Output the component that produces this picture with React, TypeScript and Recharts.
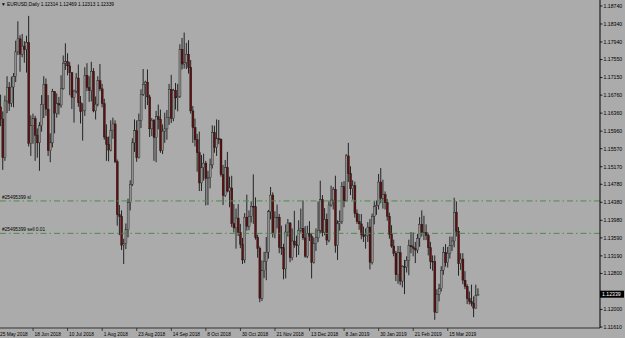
import { ComposedChart, Bar, XAxis, YAxis, ReferenceLine } from 'recharts';

// EURUSD daily, 25 May 2018 .. 4 Apr 2019 (weekdays, no 25 Dec / 1 Jan)
const OPEN = [
  1.1720, 1.1650, 1.1623, 1.1537, 1.1663, 1.1693,
  1.1658, 1.1694, 1.1718, 1.1772, 1.1801,
  1.1767, 1.1785, 1.1777, 1.1793, 1.1569,
  1.1608, 1.1624, 1.1587, 1.1570, 1.1608,
  1.1655, 1.1700, 1.1645, 1.1553, 1.1570,
  1.1684, 1.1636, 1.1657, 1.1654, 1.1690,
  1.1747, 1.1750, 1.1741, 1.1726, 1.1671,
  1.1685, 1.1714, 1.1659, 1.1640, 1.1642,
  1.1720, 1.1693, 1.1686, 1.1729, 1.1641,
  1.1656, 1.1708, 1.1690, 1.1657, 1.1583,
  1.1567, 1.1554, 1.1597, 1.1612, 1.1528,
  1.1411, 1.1407, 1.1343, 1.1346, 1.1377,
  1.1437, 1.1478, 1.1570, 1.1597, 1.1537,
  1.1620, 1.1678, 1.1700, 1.1705, 1.1672,
  1.1601, 1.1620, 1.1582, 1.1628, 1.1622,
  1.1553, 1.1596, 1.1601, 1.1627, 1.1689,
  1.1624, 1.1687, 1.1670, 1.1673, 1.1778,
  1.1745, 1.1748, 1.1767, 1.1738, 1.1641,
  1.1604, 1.1577, 1.1548, 1.1481, 1.1515,
  1.1525, 1.1491, 1.1493, 1.1521, 1.1593,
  1.1560, 1.1579, 1.1578, 1.1500, 1.1453,
  1.1515, 1.1463, 1.1470, 1.1391, 1.1381,
  1.1403, 1.1371, 1.1345, 1.1310, 1.1405,
  1.1385, 1.1407, 1.1429, 1.1428, 1.1360,
  1.1336, 1.1225, 1.1286, 1.1307, 1.1327,
  1.1417, 1.1454, 1.1368, 1.1405, 1.1405,
  1.1338, 1.1337, 1.1290, 1.1372, 1.1392,
  1.1315, 1.1352, 1.1344, 1.1342, 1.1376,
  1.1380, 1.1359, 1.1318, 1.1369, 1.1363,
  1.1305, 1.1346, 1.1359, 1.1376, 1.1444,
  1.1371, 1.1400, 1.1354, 1.1432,
  1.1443, 1.1467, 1.1342, 1.1391,
  1.1395, 1.1473, 1.1441, 1.1541, 1.1502,
  1.1468, 1.1475, 1.1413, 1.1395, 1.1390,
  1.1366, 1.1362, 1.1364, 1.1383, 1.1305,
  1.1407, 1.1428, 1.1431, 1.1483, 1.1447,
  1.1455, 1.1437, 1.1407, 1.1367, 1.1341,
  1.1325, 1.1277, 1.1326, 1.1263, 1.1296,
  1.1294, 1.1309, 1.1342, 1.1339, 1.1336,
  1.1332, 1.1358, 1.1389, 1.1371, 1.1371,
  1.1364, 1.1337, 1.1307, 1.1306, 1.1194,
  1.1234, 1.1246, 1.1287, 1.1327, 1.1304,
  1.1325, 1.1342, 1.1352, 1.1416, 1.1374,
  1.1302, 1.1312, 1.1265, 1.1251, 1.1224,
  1.1218, 1.1214, 1.1203, 1.12314,
];

const HIGH = [
  1.1736, 1.1677, 1.1640, 1.1675, 1.1718, 1.1705,
  1.1717, 1.1725, 1.1797, 1.1840, 1.1809,
  1.1812, 1.1796, 1.1808, 1.1852, 1.1631,
  1.1635, 1.1630, 1.1602, 1.1616, 1.1676,
  1.1718, 1.1713, 1.1676, 1.1591, 1.1690,
  1.1685, 1.1680, 1.1672, 1.1720, 1.1764,
  1.1791, 1.1769, 1.1750, 1.1727, 1.1688,
  1.1725, 1.1744, 1.1674, 1.1658, 1.1738,
  1.1747, 1.1718, 1.1750, 1.1736, 1.1673,
  1.1718, 1.1745, 1.1701, 1.1668, 1.1611,
  1.1584, 1.1620, 1.1626, 1.1620, 1.1533,
  1.1432, 1.1420, 1.1357, 1.1391, 1.1446,
  1.1487, 1.1580, 1.1622, 1.1620, 1.1635,
  1.1689, 1.1734, 1.1708, 1.1733, 1.1677,
  1.1625, 1.1623, 1.1641, 1.1655, 1.1644,
  1.1611, 1.1637, 1.1643, 1.1701, 1.1721,
  1.1690, 1.1703, 1.1701, 1.1789, 1.1803,
  1.1815, 1.1792, 1.1798, 1.1754, 1.1652,
  1.1624, 1.1590, 1.1595, 1.1543, 1.1546,
  1.1530, 1.1508, 1.1535, 1.1609, 1.1608,
  1.1622, 1.1621, 1.1580, 1.1521, 1.1532,
  1.1550, 1.1495, 1.1497, 1.1434, 1.1424,
  1.1434, 1.1390, 1.1359, 1.1414, 1.1455,
  1.1420, 1.1440, 1.1500, 1.1449, 1.1366,
  1.1340, 1.1309, 1.1328, 1.1361, 1.1421,
  1.1472, 1.1460, 1.1418, 1.1433, 1.1412,
  1.1386, 1.1346, 1.1389, 1.1401, 1.1394,
  1.1380, 1.1419, 1.1364, 1.1398, 1.1424,
  1.1442, 1.1385, 1.1386, 1.1396, 1.1370,
  1.1360, 1.1380, 1.1440, 1.1486, 1.1454,
  1.1425, 1.1413, 1.1440, 1.1475,
  1.1472, 1.1497, 1.1398, 1.1420,
  1.1483, 1.1485, 1.1545, 1.1570, 1.1518,
  1.1487, 1.1484, 1.1422, 1.1412, 1.1412,
  1.1384, 1.1380, 1.1394, 1.1401, 1.1413,
  1.1440, 1.1442, 1.1501, 1.1514, 1.1488,
  1.1462, 1.1445, 1.1415, 1.1387, 1.1355,
  1.1330, 1.1341, 1.1341, 1.1298, 1.1310,
  1.1318, 1.1355, 1.1372, 1.1371, 1.1350,
  1.1368, 1.1405, 1.1420, 1.1408, 1.1389,
  1.1370, 1.1350, 1.1320, 1.1320, 1.1245,
  1.1257, 1.1296, 1.1339, 1.1345, 1.1339,
  1.1362, 1.1362, 1.1448, 1.1440, 1.1383,
  1.1325, 1.1325, 1.1285, 1.1256, 1.1240,
  1.1255, 1.1229, 1.1255, 1.12469,
];

const LOW = [
  1.1646, 1.1607, 1.1510, 1.1530, 1.1636, 1.1641,
  1.1650, 1.1649, 1.1705, 1.1765, 1.1728,
  1.1760, 1.1748, 1.1726, 1.1562, 1.1541,
  1.1568, 1.1530, 1.1537, 1.1508, 1.1595,
  1.1625, 1.1630, 1.1541, 1.1527, 1.1560,
  1.1591, 1.1626, 1.1633, 1.1648, 1.1688,
  1.1732, 1.1720, 1.1676, 1.1645, 1.1615,
  1.1680, 1.1650, 1.1613, 1.1575, 1.1630,
  1.1685, 1.1661, 1.1662, 1.1638, 1.1622,
  1.1651, 1.1685, 1.1649, 1.1577, 1.1530,
  1.1529, 1.1551, 1.1579, 1.1525, 1.1386,
  1.1365, 1.1332, 1.1301, 1.1334, 1.1360,
  1.1420, 1.1474, 1.1550, 1.1528, 1.1535,
  1.1603, 1.1674, 1.1645, 1.1654, 1.1583,
  1.1585, 1.1530, 1.1527, 1.1600, 1.1548,
  1.1545, 1.1570, 1.1577, 1.1610, 1.1614,
  1.1618, 1.1644, 1.1640, 1.1670, 1.1733,
  1.1735, 1.1734, 1.1724, 1.1635, 1.1570,
  1.1562, 1.1506, 1.1463, 1.1463, 1.1486,
  1.1431, 1.1432, 1.1469, 1.1513, 1.1548,
  1.1541, 1.1567, 1.1495, 1.1432, 1.1450,
  1.1460, 1.1427, 1.1383, 1.1371, 1.1335,
  1.1363, 1.1336, 1.1301, 1.1303, 1.1375,
  1.1376, 1.1393, 1.1390, 1.1355, 1.1315,
  1.1216, 1.1219, 1.1270, 1.1265, 1.1313,
  1.1400, 1.1360, 1.1358, 1.1380, 1.1325,
  1.1321, 1.1267, 1.1269, 1.1362, 1.1305,
  1.1309, 1.1337, 1.1316, 1.1321, 1.1371,
  1.1354, 1.1315, 1.1314, 1.1352, 1.1269,
  1.1302, 1.1330, 1.1350, 1.1370, 1.1362,
  1.1365, 1.1343, 1.1349, 1.1428,
  1.1422, 1.1326, 1.1310, 1.1375,
  1.1390, 1.1427, 1.1440, 1.1483, 1.1454,
  1.1444, 1.1404, 1.1390, 1.1377, 1.1356,
  1.1350, 1.1335, 1.1350, 1.1289, 1.1300,
  1.1389, 1.1410, 1.1422, 1.1436, 1.1424,
  1.1422, 1.1397, 1.1357, 1.1337, 1.1318,
  1.1263, 1.1257, 1.1254, 1.1249, 1.1234,
  1.1282, 1.1276, 1.1325, 1.1318, 1.1303,
  1.1325, 1.1339, 1.1362, 1.1354, 1.1354,
  1.1320, 1.1290, 1.1286, 1.1177, 1.1192,
  1.1218, 1.1240, 1.1277, 1.1295, 1.1293,
  1.1313, 1.1330, 1.1338, 1.1362, 1.1275,
  1.1288, 1.1256, 1.1245, 1.1212, 1.1211,
  1.1207, 1.1183, 1.1202, 1.12313,
];

const CLOSE = [
  1.1653, 1.1623, 1.1537, 1.1663, 1.1693, 1.1658,
  1.1694, 1.1718, 1.1772, 1.1801, 1.1767,
  1.1785, 1.1777, 1.1793, 1.1569, 1.1608,
  1.1624, 1.1587, 1.1570, 1.1608, 1.1655,
  1.1700, 1.1645, 1.1553, 1.1570, 1.1684,
  1.1636, 1.1657, 1.1654, 1.1690, 1.1747,
  1.1750, 1.1741, 1.1726, 1.1671, 1.1685,
  1.1714, 1.1659, 1.1640, 1.1642, 1.1720,
  1.1693, 1.1686, 1.1729, 1.1641, 1.1656,
  1.1708, 1.1690, 1.1657, 1.1583, 1.1567,
  1.1554, 1.1597, 1.1612, 1.1528, 1.1411,
  1.1407, 1.1343, 1.1346, 1.1377, 1.1437,
  1.1478, 1.1570, 1.1597, 1.1537, 1.1620,
  1.1678, 1.1700, 1.1705, 1.1672, 1.1601,
  1.1620, 1.1582, 1.1628, 1.1622, 1.1553,
  1.1596, 1.1601, 1.1627, 1.1689, 1.1624,
  1.1687, 1.1670, 1.1673, 1.1778, 1.1745,
  1.1748, 1.1767, 1.1738, 1.1641, 1.1604,
  1.1577, 1.1548, 1.1481, 1.1515, 1.1525,
  1.1491, 1.1493, 1.1521, 1.1593, 1.1560,
  1.1579, 1.1578, 1.1500, 1.1453, 1.1515,
  1.1463, 1.1470, 1.1391, 1.1381, 1.1403,
  1.1371, 1.1345, 1.1310, 1.1405, 1.1385,
  1.1407, 1.1429, 1.1428, 1.1360, 1.1336,
  1.1225, 1.1286, 1.1307, 1.1327, 1.1417,
  1.1454, 1.1368, 1.1405, 1.1405, 1.1338,
  1.1337, 1.1290, 1.1372, 1.1392, 1.1315,
  1.1352, 1.1344, 1.1342, 1.1376, 1.1380,
  1.1359, 1.1318, 1.1369, 1.1363, 1.1305,
  1.1346, 1.1359, 1.1376, 1.1444, 1.1371,
  1.1400, 1.1354, 1.1432, 1.1443,
  1.1467, 1.1342, 1.1391, 1.1395,
  1.1473, 1.1441, 1.1541, 1.1502, 1.1468,
  1.1475, 1.1413, 1.1395, 1.1390, 1.1366,
  1.1362, 1.1364, 1.1383, 1.1305, 1.1407,
  1.1428, 1.1431, 1.1483, 1.1447, 1.1455,
  1.1437, 1.1407, 1.1367, 1.1341, 1.1325,
  1.1277, 1.1326, 1.1263, 1.1296, 1.1294,
  1.1309, 1.1342, 1.1339, 1.1336, 1.1332,
  1.1358, 1.1389, 1.1371, 1.1371, 1.1364,
  1.1337, 1.1307, 1.1306, 1.1194, 1.1234,
  1.1246, 1.1287, 1.1327, 1.1304, 1.1325,
  1.1342, 1.1352, 1.1416, 1.1374, 1.1302,
  1.1312, 1.1265, 1.1251, 1.1224, 1.1218,
  1.1214, 1.1203, 1.1231, 1.12339,
];

// one label every 16 bars
const DATE_LABELS = [
  '25 May 2018', '18 Jun 2018', '10 Jul 2018', '1 Aug 2018', '23 Aug 2018',
  '14 Sep 2018', '8 Oct 2018', '30 Oct 2018', '21 Nov 2018', '13 Dec 2018',
  '8 Jan 2019', '30 Jan 2019', '21 Feb 2019', '15 Mar 2019',
];
const LABEL_STEP = 16;

const PRICE_TICKS = [
  1.1874, 1.1834, 1.1794, 1.1755, 1.1715, 1.1676, 1.1636, 1.1596, 1.1557,
  1.1517, 1.1478, 1.1438, 1.1398, 1.1359, 1.1319, 1.128, 1.12, 1.1161,
];

const SL_PRICE = 1.1441;
const ENTRY_PRICE = 1.1369;
const LAST_PRICE = 1.12339;

const BG = '#ababab';
const BULL = '#8f8f8f';
const BEAR = '#5e1010';
const LEVEL = '#4a8d4a';
const FONT = 'Liberation Sans, Arial, sans-serif';

const rows = OPEN.map((o, i) => ({ i, open: o, high: HIGH[i], low: LOW[i], close: CLOSE[i] }));

function Candle(props: any) {
  const { x, y, width, height, payload } = props;
  if (!payload || height == null) return null;
  const { open, close, high, low } = payload;
  const top = Math.min(y, y + height);
  const h = Math.abs(height);
  const k = high > low ? h / (high - low) : 0;
  const py = (p: number) => top + (high - p) * k;
  const cx = x + width / 2;
  const up = close >= open;
  const bTop = py(Math.max(open, close));
  const bH = Math.max(0.8, Math.abs(py(open) - py(close)));
  return (
    <g>
      <line x1={cx} x2={cx} y1={top} y2={top + h} stroke="#000" strokeWidth={0.8} />
      <rect x={cx - 0.9} y={bTop} width={2} height={bH} fill={up ? BULL : BEAR} stroke="#111" strokeWidth={0.35} />
    </g>
  );
}

function XTick(props: any) {
  const { x, y, payload } = props;
  const label = DATE_LABELS[Math.round(payload.value / LABEL_STEP)];
  return (
    <g>
      <line x1={x} x2={x} y1={y} y2={y + 3} stroke="#222" strokeWidth={0.8} />
      <text x={x + 1.5} y={y + 7.5} fontSize={4.8} fill="#000" fontFamily={FONT}>{label}</text>
    </g>
  );
}

function YTick(props: any) {
  const { x, y, payload } = props;
  return (
    <g>
      <line x1={x} x2={x + 2.5} y1={y} y2={y} stroke="#000" strokeWidth={0.8} />
      <text x={x + 3.5} y={y} dy="0.35em" fontSize={5.2} fill="#000" fontFamily={FONT}>
        {Number(payload.value).toFixed(5)}
      </text>
    </g>
  );
}

function LevelLabel({ viewBox, text }: any) {
  if (!viewBox) return null;
  return (
    <text x={viewBox.x + 2} y={viewBox.y - 2} fontSize={4.8} fill="#000" fontFamily={FONT}>{text}</text>
  );
}

function PriceLabel({ viewBox }: any) {
  if (!viewBox) return null;
  const x0 = viewBox.x + viewBox.width;
  return (
    <g>
      <rect x={x0} y={viewBox.y - 3.5} width={24} height={7} fill="#000" />
      <text x={x0 + 2} y={viewBox.y} dy="0.35em" fontSize={5.2} fill="#fff" fontFamily={FONT}>
        {LAST_PRICE.toFixed(5)}
      </text>
    </g>
  );
}

export default function App() {
  return (
    <div style={{ position: 'fixed', left: 0, top: 0, width: 625, height: 338, background: BG }}>
      <ComposedChart width={625} height={338} data={rows} margin={{ top: 0, right: 0, bottom: 0, left: 0 }}>
        <XAxis
          type="number"
          dataKey="i"
          domain={[0.694, 278.47]}
          allowDataOverflow
          ticks={DATE_LABELS.map((_, k) => k * LABEL_STEP)}
          interval={0}
          tick={<XTick />}
          tickLine={false}
          tickSize={0}
          tickMargin={0}
          axisLine={{ stroke: '#5a5a5a', strokeWidth: 1.5 }}
          height={10}
        />
        <YAxis
          orientation="right"
          domain={[1.11588, 1.18873]}
          allowDataOverflow
          ticks={PRICE_TICKS}
          interval={0}
          tick={<YTick />}
          tickLine={false}
          tickSize={0}
          tickMargin={0}
          axisLine={{ stroke: '#000' }}
          width={25}
        />
        <ReferenceLine y={SL_PRICE} stroke={LEVEL} strokeDasharray="6 3 1.5 3" label={<LevelLabel text="#25495399 sl" />} />
        <ReferenceLine y={ENTRY_PRICE} stroke={LEVEL} strokeDasharray="6 3 1.5 3" label={<LevelLabel text="#25495399 sell 0.01" />} />
        <Bar dataKey={(d: any) => [d.low, d.high]} shape={<Candle />} barSize={2} isAnimationActive={false} />
        <ReferenceLine y={LAST_PRICE} stroke="none" label={<PriceLabel />} />
      </ComposedChart>
      <svg width={200} height={10} style={{ position: 'absolute', left: 0, top: 0 }}>
        <text x={1} y={6} fontSize={4.8} fill="#000" fontFamily={FONT}>
          ▼ EURUSD,Daily  1.12314 1.12469 1.12313 1.12339
        </text>
      </svg>
    </div>
  );
}
